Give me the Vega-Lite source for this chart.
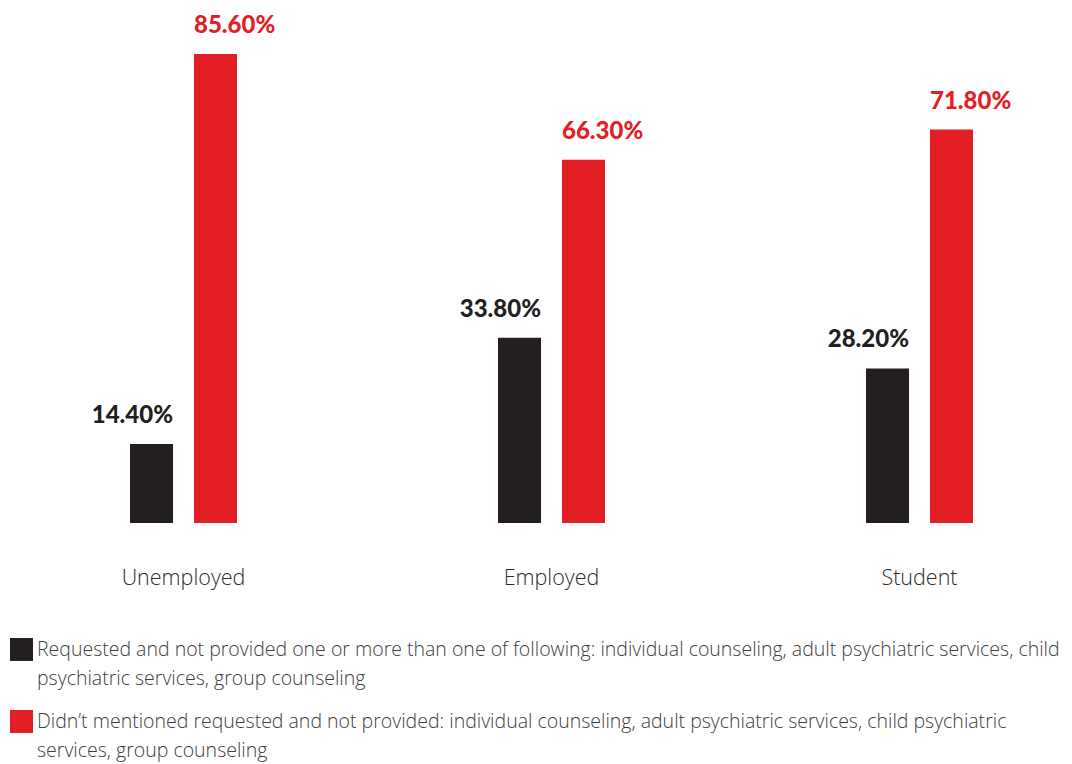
{
  "$schema": "https://vega.github.io/schema/vega-lite/v6.json",
  "width": 1072,
  "height": 764,
  "autosize": {"type": "none"},
  "padding": 0,
  "background": "white",
  "config": {
    "view": {"stroke": null},
    "font": "Lato",
    "style": {"guide-label": {"lineHeight": 29}}
  },
  "data": {
    "values": [
      {"status": "Unemployed", "series": "Requested and not provided one or more than one of following: individual counseling, adult psychiatric services, child\npsychiatric services, group counseling", "code": "requested", "value": 14.4},
      {"status": "Unemployed", "series": "Didn’t mentioned requested and not provided: individual counseling, adult psychiatric services, child psychiatric\nservices, group counseling", "code": "not_mentioned", "value": 85.6},
      {"status": "Employed", "series": "Requested and not provided one or more than one of following: individual counseling, adult psychiatric services, child\npsychiatric services, group counseling", "code": "requested", "value": 33.8},
      {"status": "Employed", "series": "Didn’t mentioned requested and not provided: individual counseling, adult psychiatric services, child psychiatric\nservices, group counseling", "code": "not_mentioned", "value": 66.3},
      {"status": "Student", "series": "Requested and not provided one or more than one of following: individual counseling, adult psychiatric services, child\npsychiatric services, group counseling", "code": "requested", "value": 28.2},
      {"status": "Student", "series": "Didn’t mentioned requested and not provided: individual counseling, adult psychiatric services, child psychiatric\nservices, group counseling", "code": "not_mentioned", "value": 71.8}
    ]
  },
  "transform": [{"calculate": "format(datum.value, '.2f') + '%'", "as": "label"}],
  "encoding": {
    "x": {
      "field": "status",
      "type": "nominal",
      "sort": ["Unemployed", "Employed", "Student"],
      "scale": {"range": [-0.5, 1103.5], "paddingInner": 0, "paddingOuter": 0},
      "axis": {
        "title": null,
        "domain": false,
        "ticks": false,
        "labelAngle": 0,
        "labelFont": "Open Sans",
        "labelFontSize": 21.5,
        "labelFontWeight": 300,
        "labelColor": "#2b2b2b",
        "offset": -241,
        "labelPadding": 44,
        "labelBaseline": "top"
      }
    },
    "xOffset": {
      "field": "code",
      "type": "nominal",
      "scale": {"domain": ["requested", "not_mentioned"], "range": [130.5, 237.5], "paddingInner": 0.328, "paddingOuter": 0}
    },
    "y": {
      "field": "value",
      "type": "quantitative",
      "scale": {"domain": [0, 100], "range": [523, -25], "nice": false, "zero": true},
      "axis": null
    }
  },
  "layer": [
    {
      "mark": {"type": "bar"},
      "encoding": {
        "color": {
          "field": "series",
          "type": "nominal",
          "sort": null,
          "scale": {
            "domain": [
              "Requested and not provided one or more than one of following: individual counseling, adult psychiatric services, child\npsychiatric services, group counseling",
              "Didn’t mentioned requested and not provided: individual counseling, adult psychiatric services, child psychiatric\nservices, group counseling"
            ],
            "range": ["#231f20", "#e31e24"]
          },
          "legend": {
            "orient": "none",
            "legendX": 10,
            "legendY": 629,
            "title": null,
            "direction": "vertical",
            "symbolType": "M-1,-0.22H1V1.78H-1Z",
            "symbolSize": 529,
            "symbolStrokeWidth": 0,
            "symbolOpacity": 1,
            "labelFont": "Open Sans",
            "labelFontSize": 19.5,
            "labelFontWeight": 300,
            "labelColor": "#3d3d3d",
            "labelBaseline": "top",
            "labelLimit": 1100,
            "labelOffset": 4,
            "labelExpr": "split(datum.label, '\\n')",
            "rowPadding": 13
          }
        }
      }
    },
    {
      "transform": [{"filter": {"field": "code", "equal": "requested"}}],
      "mark": {"type": "text", "align": "right", "baseline": "alphabetic", "dx": 21.5, "dy": -21, "font": "Lato", "fontSize": 24, "fontWeight": 900, "color": "#231f20"},
      "encoding": {"text": {"field": "label"}}
    },
    {
      "transform": [{"filter": {"field": "code", "equal": "not_mentioned"}}],
      "mark": {"type": "text", "align": "left", "baseline": "alphabetic", "dx": -21.5, "dy": -21, "font": "Lato", "fontSize": 24, "fontWeight": 900, "color": "#e31e24"},
      "encoding": {"text": {"field": "label"}}
    }
  ]
}
